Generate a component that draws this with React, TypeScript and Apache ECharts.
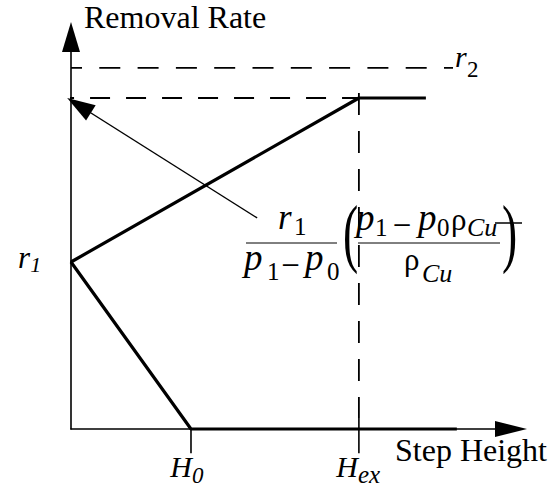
import React, { useEffect, useRef } from "react";
import * as echarts from "echarts";

const SERIF = '"Liberation Serif", "Times New Roman", Times, serif';

// Step-height markers on the horizontal axis (arbitrary units)
const H0 = 2.83;
const H_EX = 6.79;
// Removal-rate levels on the vertical axis (arbitrary units)
const R1 = 4.43;
const R_TOP = 8.78;
const R2 = 9.58;

// Rate curves
const fallingRate: number[][] = [[0, 4.43], [2.83, 0], [9.1, 0]];
const risingRate: number[][] = [[0, 4.43], [6.79, 8.78], [8.37, 8.78]];

// Guide lines and ticks
const topGuide: number[][] = [[-0.73, 8.78], [6.79, 8.78]];
const r2Guide: number[][] = [[0, 9.58], [9.01, 9.58]];
const hexGuide: number[][] = [[6.79, 8.91], [6.79, 0.29]];
const hexTick: number[][] = [[6.79, 0.29], [6.79, -0.64]];
const h0Tick: number[][] = [[2.83, 0], [2.83, -0.64]];
const r1Tick: number[][] = [[-0.61, 4.43], [0, 4.43]];

// Leader from the formula to the saturated rate level
const pointer: number[][] = [[4.39, 5.6], [-0.09, 8.78]];

const AXIS_NAMES = { y: "Removal Rate", x: "Step Height" };

type TxtOpt = { italic?: boolean; align?: "left" | "right" | "center" };

function txt(text: string, x: number, baseline: number, size: number, opt: TxtOpt = {}) {
  const align = opt.align || "left";
  return {
    type: "text",
    x,
    y: baseline - 0.34 * size,
    silent: true,
    style: {
      text,
      x: 0,
      y: 0,
      font: `${opt.italic ? "italic " : ""}${size}px ${SERIF}`,
      fill: "#000",
      align,
      textAlign: align,
      verticalAlign: "middle",
      textVerticalAlign: "middle",
    },
  };
}

function paren(text: string, x: number, centerY: number) {
  const size = 76;
  return {
    type: "text",
    x,
    y: centerY - 0.1 * size,
    scaleX: 0.6,
    silent: true,
    style: {
      text,
      x: 0,
      y: 0,
      font: `${size}px ${SERIF}`,
      fill: "#000",
      align: "left",
      textAlign: "left",
      verticalAlign: "middle",
      textVerticalAlign: "middle",
    },
  };
}

function hline(x1: number, x2: number, y: number, w = 1) {
  return {
    type: "line",
    silent: true,
    shape: { x1, y1: y, x2, y2: y },
    style: { stroke: "#000", lineWidth: w },
  };
}

// long first dash, then a regular 20/16 rhythm
const TOP_DASH = [34, 16, 20, 16, 20, 16, 20, 16, 20, 16, 20, 16, 20, 16, 20, 16, 20, 16];

export default function App() {
  const ref = useRef<HTMLDivElement>(null);

  useEffect(() => {
    if (!ref.current) return;
    const chart = echarts.init(ref.current, null, { renderer: "svg" });

    const solid = (name: string, data: number[][], width: number) => ({
      type: "line",
      name,
      data,
      symbol: "none",
      showSymbol: false,
      clip: false,
      silent: true,
      z: 3,
      lineStyle: { color: "#000", width, type: "solid" },
    });
    const dashed = (name: string, data: number[][], dash: number[], offset = 0) => ({
      ...solid(name, data, 1.8),
      lineStyle: { color: "#000", width: 1.8, type: dash, dashOffset: offset },
    });

    const axisCommon = {
      type: "value",
      min: 0,
      max: 10,
      axisTick: { show: false },
      axisLabel: { show: false },
      splitLine: { show: false },
    };

    chart.setOption({
      animation: false,
      backgroundColor: "#fff",
      grid: { left: 71, right: 63, top: 52, bottom: 60, containLabel: false },
      xAxis: {
        ...axisCommon,
        axisLine: {
          show: true,
          onZero: false,
          symbol: ["none", "triangle"],
          symbolSize: [16, 32],
          symbolOffset: [0, 16],
          lineStyle: { color: "#000", width: 1.6 },
        },
      },
      yAxis: {
        ...axisCommon,
        axisLine: {
          show: true,
          onZero: false,
          symbol: ["none", "triangle"],
          symbolSize: [18, 30],
          symbolOffset: [0, 15],
          lineStyle: { color: "#000", width: 1.6 },
        },
      },
      series: [
        dashed("top level", topGuide, TOP_DASH),
        dashed("r2 level", r2Guide, [21, 17.3], 10),
        dashed("H_ex", hexGuide, [22, 16]),
        solid("H_ex tick", hexTick, 1.6),
        solid("H0 tick", h0Tick, 1.6),
        solid("r1 tick", r1Tick, 1.6),
        solid("leader", pointer, 1.3),
        solid("falling rate", fallingRate, 3.2),
        solid("rising rate", risingRate, 3.2),
      ],
    });

    const px = (p: number[]) => chart.convertToPixel({ gridIndex: 0 }, p) as number[];

    // arrow head at the end of the leader
    const tail = px(pointer[0]);
    const tip = px(pointer[1]);
    const dx = tail[0] - tip[0];
    const dy = tail[1] - tip[1];
    const len = Math.hypot(dx, dy);
    const ux = dx / len;
    const uy = dy / len;
    const headLen = 28;
    const headHalf = 9;
    const bx = tip[0] + ux * headLen;
    const by = tip[1] + uy * headLen;
    const head = {
      type: "polygon",
      silent: true,
      z: 10,
      shape: {
        points: [
          [tip[0], tip[1]],
          [bx - uy * headHalf, by + ux * headHalf],
          [bx + uy * headHalf, by - ux * headHalf],
        ],
      },
      style: { fill: "#000" },
    };

    const r1At = px(r1Tick[0]);
    const r2At = px(r2Guide[1]);
    const h0At = px(h0Tick[1]);
    const hexAt = px(hexTick[1]);

    const labels = [
      txt("r", r1At[0] - 15, r1At[1] + 6, 31, { italic: true, align: "right" }),
      txt("1", r1At[0] - 15, r1At[1] + 10, 22, { italic: true }),
      txt("r", r2At[0] + 2, r2At[1] - 1, 30, { italic: true }),
      txt("2", r2At[0] + 14, r2At[1] + 9, 23),
      txt("H", h0At[0] + 1, h0At[1] + 24, 30, { italic: true, align: "right" }),
      txt("0", h0At[0] + 1, h0At[1] + 30, 23, { italic: true }),
      txt("H", hexAt[0] - 1, hexAt[1] + 24, 30, { italic: true, align: "right" }),
      txt("ex", hexAt[0] - 1, hexAt[1] + 30, 25, { italic: true }),
    ];

    const formula = [
      // r1 / (p1 - p0)
      txt("r", 278, 229, 35, { italic: true }),
      txt("1", 294, 235, 25),
      hline(246, 337, 243),
      txt("p", 244, 270, 37, { italic: true }),
      txt("1", 267, 280, 25),
      txt("\u2212", 290.5, 276, 33, { align: "center" }),
      txt("p", 305, 270, 37, { italic: true }),
      txt("0", 327, 280, 25),
      // ( (p1 - p0 rho_Cu) / rho_Cu )
      paren("(", 343, 240),
      txt("p", 356, 230, 37, { italic: true }),
      txt("1", 375, 236, 25),
      txt("\u2212", 402, 236, 33, { align: "center" }),
      txt("p", 418, 230, 37, { italic: true }),
      txt("0", 437, 236, 25),
      txt("\u03c1", 451, 230, 31),
      txt("Cu", 467, 236, 26, { italic: true }),
      hline(358, 500, 243),
      hline(495, 522, 223, 1.5),
      txt("\u03c1", 404, 270, 31),
      txt("Cu", 422, 282, 26, { italic: true }),
      paren(")", 502, 240),
    ];

    chart.setOption({
      graphic: [
        head,
        txt(AXIS_NAMES.y, 84, 28, 32),
        txt(AXIS_NAMES.x, 395, 461, 32),
        ...labels,
        ...formula,
      ],
    });

    return () => chart.dispose();
  }, []);

  return (
    <div
      ref={ref}
      style={{ position: "absolute", left: 0, top: 0, width: 558, height: 489, background: "#fff" }}
    />
  );
}
